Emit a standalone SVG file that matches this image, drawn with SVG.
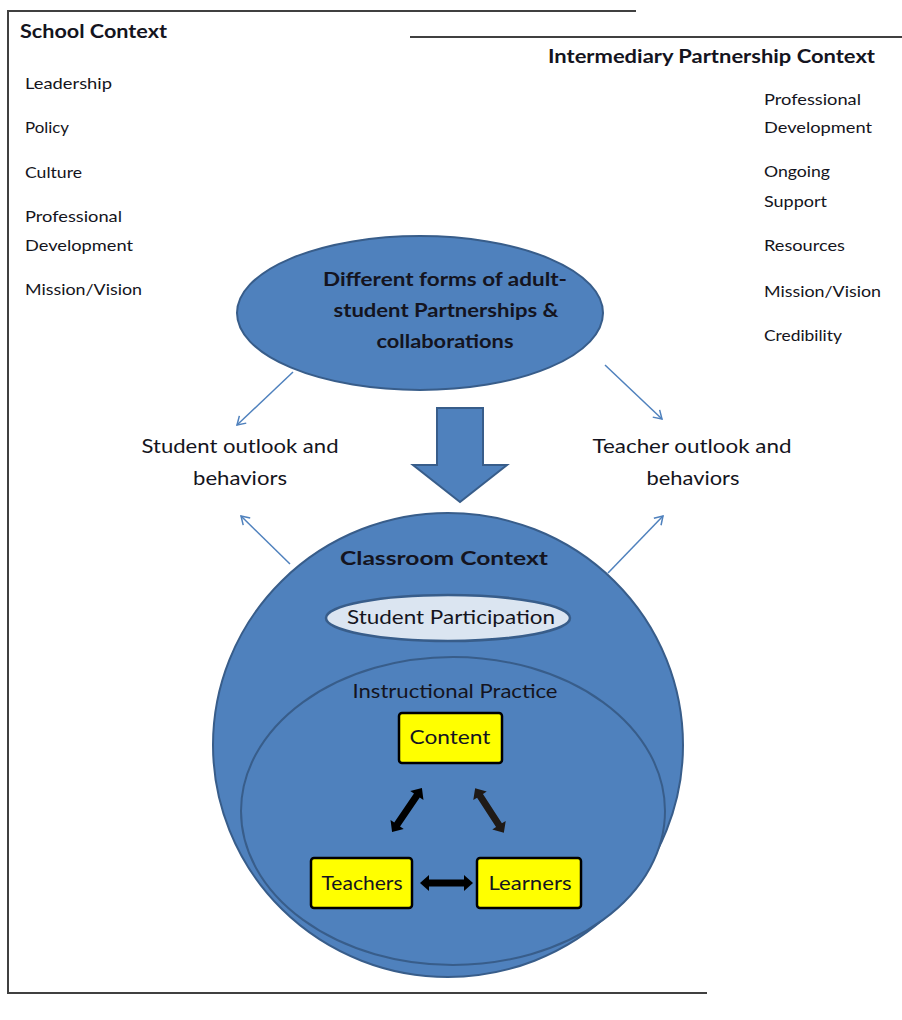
<svg xmlns="http://www.w3.org/2000/svg" xmlns:xlink="http://www.w3.org/1999/xlink" width="902" height="1020" viewBox="0 0 902 1020">
  <style>
    .frame { stroke: #404040; stroke-width: 2; fill: none; }
    .t { font-family: Lato, "Open Sans", "Liberation Sans", sans-serif; fill: #141420; }
    .hd { font-weight: bold; font-size: 19px; }
    .li { font-size: 15px; }
    .mid { font-size: 19px; }
    .blue { fill: #4F81BD; stroke: #385D8A; stroke-width: 2; }
    .thin { stroke: #4F81BD; stroke-width: 1.5; fill: none; marker-end: url(#open); }
    .box { fill: #FFFF00; stroke: #000; stroke-width: 2.5; }
  </style>
  <defs>
    <marker id="open" markerWidth="14" markerHeight="14" refX="11" refY="7" orient="auto" markerUnits="userSpaceOnUse">
      <path d="M3,2 L11,7 L3,12" fill="none" stroke="#4F81BD" stroke-width="1.5"/>
    </marker>
    <!-- two-headed block arrow, 53px long, centred on the origin -->
    <path id="dbl" d="M-26.5,0 L-17.5,-8 L-17.5,-3.5 L17.5,-3.5 L17.5,-8 L26.5,0 L17.5,8 L17.5,3.5 L-17.5,3.5 L-17.5,8 Z"/>
  </defs>

  <rect width="902" height="1020" fill="#fff"/>

  <!-- outer frame lines -->
  <g id="frame">
    <line class="frame" x1="8" y1="11" x2="636" y2="11"/>
    <line class="frame" x1="8" y1="10" x2="8" y2="994"/>
    <line class="frame" x1="7" y1="993" x2="707" y2="993"/>
    <line class="frame" x1="410" y1="37" x2="902" y2="37"/>
  </g>

  <!-- school context list -->
  <g id="school-context" class="t">
    <text class="hd" x="20" y="38" textLength="147" lengthAdjust="spacingAndGlyphs">School Context</text>
    <text class="li" x="25" y="89" textLength="87" lengthAdjust="spacingAndGlyphs">Leadership</text>
    <text class="li" x="25" y="133" textLength="44" lengthAdjust="spacingAndGlyphs">Policy</text>
    <text class="li" x="25" y="178" textLength="57" lengthAdjust="spacingAndGlyphs">Culture</text>
    <text class="li" x="25" y="222" textLength="97" lengthAdjust="spacingAndGlyphs">Professional</text>
    <text class="li" x="25" y="251" textLength="108" lengthAdjust="spacingAndGlyphs">Development</text>
    <text class="li" x="25" y="295" textLength="117" lengthAdjust="spacingAndGlyphs">Mission/Vision</text>
  </g>

  <!-- intermediary partnership context list -->
  <g id="partnership-context" class="t">
    <text class="hd" x="548" y="63" textLength="327" lengthAdjust="spacingAndGlyphs">Intermediary Partnership Context</text>
    <text class="li" x="764" y="105" textLength="97" lengthAdjust="spacingAndGlyphs">Professional</text>
    <text class="li" x="764" y="133" textLength="108" lengthAdjust="spacingAndGlyphs">Development</text>
    <text class="li" x="764" y="177" textLength="66" lengthAdjust="spacingAndGlyphs">Ongoing</text>
    <text class="li" x="764" y="207" textLength="63" lengthAdjust="spacingAndGlyphs">Support</text>
    <text class="li" x="764" y="251" textLength="81" lengthAdjust="spacingAndGlyphs">Resources</text>
    <text class="li" x="764" y="297" textLength="117" lengthAdjust="spacingAndGlyphs">Mission/Vision</text>
    <text class="li" x="764" y="341" textLength="78" lengthAdjust="spacingAndGlyphs">Credibility</text>
  </g>

  <!-- partnerships ellipse -->
  <g id="partnerships">
    <ellipse class="blue" cx="420" cy="313" rx="183" ry="77"/>
    <g class="t hd" text-anchor="middle">
      <text x="445" y="286" textLength="244" lengthAdjust="spacingAndGlyphs">Different forms of adult-</text>
      <text x="446" y="317" textLength="225" lengthAdjust="spacingAndGlyphs">student Partnerships &amp;</text>
      <text x="445" y="348" textLength="137" lengthAdjust="spacingAndGlyphs">collaborations</text>
    </g>
  </g>

  <!-- outlook labels -->
  <g id="student-outlook" class="t mid" text-anchor="middle">
    <text x="240" y="453" textLength="197" lengthAdjust="spacingAndGlyphs">Student outlook and</text>
    <text x="240" y="485" textLength="94" lengthAdjust="spacingAndGlyphs">behaviors</text>
  </g>
  <g id="teacher-outlook" class="t mid" text-anchor="middle">
    <text x="692" y="453" textLength="199" lengthAdjust="spacingAndGlyphs">Teacher outlook and</text>
    <text x="693" y="485" textLength="93" lengthAdjust="spacingAndGlyphs">behaviors</text>
  </g>

  <!-- classroom context -->
  <g id="classroom">
    <ellipse class="blue" cx="448" cy="745" rx="235" ry="232"/>
    <text class="t hd" x="444" y="565" text-anchor="middle" textLength="208" lengthAdjust="spacingAndGlyphs">Classroom Context</text>
  </g>

  <g id="student-participation">
    <ellipse cx="448" cy="618" rx="122" ry="23" fill="#DBE5F1" stroke="#385D8A" stroke-width="2.5"/>
    <text class="t mid" x="451" y="624" text-anchor="middle" textLength="208" lengthAdjust="spacingAndGlyphs">Student Participation</text>
  </g>

  <g id="instructional-practice">
    <ellipse class="blue" cx="453" cy="811" rx="212" ry="154"/>
    <text class="t mid" x="455" y="698" text-anchor="middle" textLength="205" lengthAdjust="spacingAndGlyphs">Instructional Practice</text>
  </g>

  <g id="content">
    <rect class="box" x="399" y="713" width="103" height="50" rx="3"/>
    <text class="t mid" x="450" y="744" text-anchor="middle" textLength="81" lengthAdjust="spacingAndGlyphs">Content</text>
  </g>
  <g id="teachers">
    <rect class="box" x="311" y="858" width="101" height="50" rx="3"/>
    <text class="t mid" x="362" y="890" text-anchor="middle" textLength="81" lengthAdjust="spacingAndGlyphs">Teachers</text>
  </g>
  <g id="learners">
    <rect class="box" x="477" y="858" width="104" height="50" rx="3"/>
    <text class="t mid" x="530" y="890" text-anchor="middle" textLength="83" lengthAdjust="spacingAndGlyphs">Learners</text>
  </g>

  <!-- connectors -->
  <g id="connectors">
    <path d="M437,408 L483,408 L483,465 L507,465 L460,502 L413,465 L437,465 Z" class="blue"/>
    <line class="thin" x1="293" y1="372" x2="237" y2="425"/>
    <line class="thin" x1="605" y1="365" x2="662" y2="419"/>
    <line class="thin" x1="290" y1="564" x2="241" y2="516"/>
    <line class="thin" x1="608" y1="573" x2="663" y2="516"/>
    <use xlink:href="#dbl" transform="translate(407,810) rotate(-55.7)" fill="#000"/>
    <use xlink:href="#dbl" transform="translate(489.5,810.5) rotate(57.2)" fill="#1F1A17"/>
    <use xlink:href="#dbl" transform="translate(446.5,883)" fill="#000"/>
  </g>
</svg>
